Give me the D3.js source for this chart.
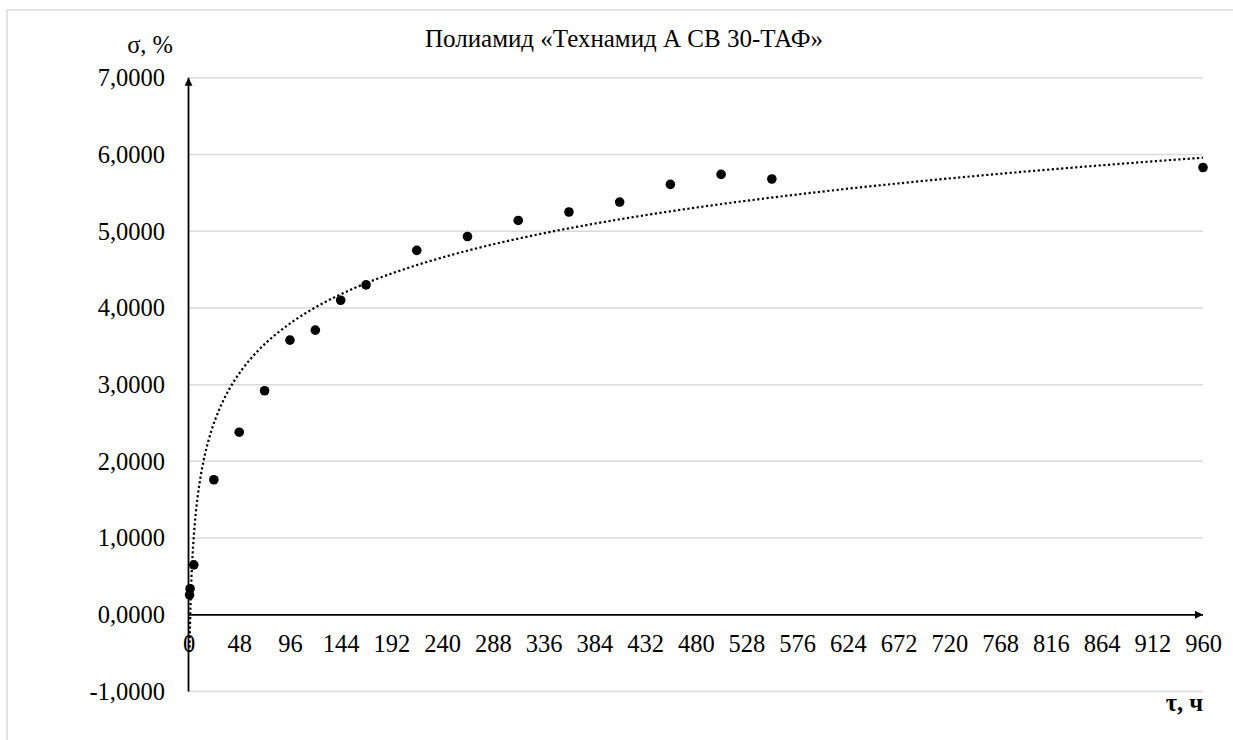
<!DOCTYPE html>
<html>
<head>
<meta charset="utf-8">
<script src="https://cdn.jsdelivr.net/npm/d3@7"></script>
<style>
  html, body { margin: 0; padding: 0; background: #fff; }
  svg { display: block; }
  svg text { font-family: "Times New Roman", "Liberation Serif", Tinos, "DejaVu Serif", serif !important; fill: #000; }
</style>
</head>
<body>
<svg id="chart" width="1233" height="740"></svg>
<script>
// ---- data ----
const chartTitle = "Полиамид «Технамид А СВ 30-ТАФ»";
const yAxisTitle = "σ, %";
const xAxisTitle = "τ, ч";
const hours = [1, 1.5, 5, 24, 48, 72, 96, 120, 144, 168, 216, 264, 312, 360, 408, 456, 504, 552, 960];
const sigma = [0.26, 0.34, 0.65, 1.76, 2.38, 2.92, 3.58, 3.71, 4.10, 4.30, 4.75, 4.93, 5.14, 5.25, 5.38, 5.61, 5.74, 5.68, 5.83];
const xTicks = [0, 48, 96, 144, 192, 240, 288, 336, 384, 432, 480, 528, 576, 624, 672, 720, 768, 816, 864, 912, 960];
const yTicks = [-1, 0, 1, 2, 3, 4, 5, 6, 7];

// ---- layout ----
const FONT = '"Times New Roman", "Liberation Serif", Tinos, "DejaVu Serif", serif';
const FS = 24.5;
const svg = d3.select("#chart");
const x = d3.scaleLinear().domain([0, 960]).range([188.5, 1203]);
const y = d3.scaleLinear().domain([-1, 7]).range([691.5, 77.75]);
const fmtY = v => d3.format(".4f")(v).replace(".", ",").replace("−", "-");

// outer border
svg.append("rect").attr("x", 7).attr("y", 10).attr("width", 1240).attr("height", 760)
  .attr("fill", "none").attr("stroke", "#d9d9d9").attr("stroke-width", 1.5);

// gridlines
svg.append("g").selectAll("line").data(yTicks.filter(v => v !== 0)).join("line")
  .attr("x1", x(0)).attr("x2", x(960))
  .attr("y1", d => y(d)).attr("y2", d => y(d))
  .attr("stroke", "#d9d9d9").attr("stroke-width", 1.5);

// y tick labels
const yAxis = d3.axisLeft(y).tickValues(yTicks).tickFormat(fmtY).tickSize(0).tickPadding(0);
const gy = svg.append("g").attr("transform", "translate(165,0)").call(yAxis);
gy.select(".domain").remove();
gy.attr("font-family", null);
gy.selectAll("text").style("font-family", FONT).attr("font-size", FS).attr("dy", "0.32em").attr("fill", "#000");

// x tick labels
const xAxis = d3.axisBottom(x).tickValues(xTicks).tickFormat(d3.format("d")).tickSize(0).tickPadding(0);
const gx = svg.append("g").attr("transform", "translate(0,634.5)").call(xAxis);
gx.select(".domain").remove();
gx.attr("font-family", null);
gx.selectAll("text").style("font-family", FONT).attr("font-size", FS).attr("dy", "0.7em").attr("fill", "#000");

// arrow marker
const defs = svg.append("defs");
defs.append("marker").attr("id", "arrow").attr("viewBox", "0 0 10 10")
  .attr("refX", 10).attr("refY", 5).attr("markerWidth", 10).attr("markerHeight", 8)
  .attr("markerUnits", "userSpaceOnUse").attr("orient", "auto")
  .append("path").attr("d", "M0,0 L10,5 L0,10 Z").attr("fill", "#000");

// x axis line (at y = 0)
svg.append("line").attr("x1", x(0)).attr("x2", x(960)).attr("y1", y(0)).attr("y2", y(0))
  .attr("stroke", "#000").attr("stroke-width", 1.8).attr("marker-end", "url(#arrow)");
// y axis line (at x = 0)
svg.append("line").attr("x1", x(0)).attr("x2", x(0)).attr("y1", y(-1)).attr("y2", y(7))
  .attr("stroke", "#000").attr("stroke-width", 1.8).attr("marker-end", "url(#arrow)");

// logarithmic trendline computed from data (least squares on ln x)
const L = hours.map(Math.log);
const mL = d3.mean(L), mY = d3.mean(sigma);
const a = d3.sum(L.map((l, i) => (l - mL) * (sigma[i] - mY))) / d3.sum(L.map(l => (l - mL) ** 2));
const b = mY - a * mL;
const xmin = d3.min(hours), xmax = d3.max(hours);
const trendX = d3.range(0, 401).map(i => Math.exp(Math.log(xmin) + (Math.log(xmax) - Math.log(xmin)) * i / 400));
const line = d3.line().x(d => x(d)).y(d => y(a * Math.log(d) + b));
svg.append("path").datum(trendX).attr("d", line)
  .attr("fill", "none").attr("stroke", "#000").attr("stroke-width", 2.2)
  .attr("stroke-dasharray", "2.2,2.5");

// data points
svg.append("g").selectAll("circle").data(hours.map((h, i) => [h, sigma[i]])).join("circle")
  .attr("cx", d => x(d[0])).attr("cy", d => y(d[1])).attr("r", 4.8).attr("fill", "#000");

// titles
svg.append("text").attr("x", 624).attr("y", 47).attr("text-anchor", "middle")
  .style("font-family", FONT).attr("font-size", 25).text(chartTitle);
svg.append("text").attr("x", 173).attr("y", 53).attr("text-anchor", "end")
  .style("font-family", FONT).attr("font-size", FS).text(yAxisTitle);
svg.append("text").attr("x", 1203).attr("y", 711).attr("text-anchor", "end")
  .style("font-family", FONT).attr("font-size", FS).attr("font-weight", "bold").text(xAxisTitle);
</script>
</body>
</html>
